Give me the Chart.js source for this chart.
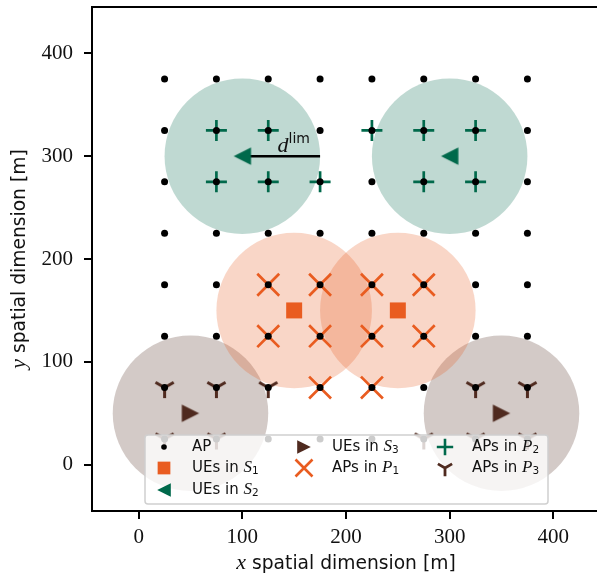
<!DOCTYPE html>
<html>
<head>
<meta charset="utf-8">
<script src="https://cdn.jsdelivr.net/npm/chart.js@4.4.1/dist/chart.umd.min.js"></script>
<style>
  html, body { margin: 0; padding: 0; background: #fff; overflow: hidden; }
  #wrap { width: 605px; height: 585px; }
</style>
</head>
<body>
<div id="wrap"><canvas id="fig" width="605" height="585"></canvas></div>
<script>
// AP grid coordinates [m]
const GRID_X = [25, 75, 125, 175, 225, 275, 325, 375];
const GRID_Y = [25, 75, 125, 175, 225, 275, 325, 375];

// UE positions per cluster
const UE_S1 = [[150, 150], [250, 150]];
const UE_S2 = [[100, 300], [300, 300]];
const UE_S3 = [[50, 50], [350, 50]];

// APs serving each cluster
const AP_P1 = [[125, 175], [175, 175], [225, 175], [275, 175],
               [125, 125], [175, 125], [225, 125], [275, 125],
               [175, 75], [225, 75]];
const AP_P2 = [[75, 325], [125, 325], [225, 325], [275, 325], [325, 325],
               [75, 275], [125, 275], [175, 275], [275, 275], [325, 275]];
const AP_P3 = [[25, 75], [75, 75], [125, 75], [325, 75], [375, 75],
               [25, 25], [75, 25], [275, 25], [325, 25], [375, 25]];

const D_LIM = 75;
const X_TICKS = [0, 100, 200, 300, 400];
const Y_TICKS = [0, 100, 200, 300, 400];
const X_RANGE = [-45, 445];
const Y_RANGE = [-45, 445];

const ORANGE = '#e95c20';
const GREEN = '#00694b';
const BROWN = '#4f2a1f';

const SANS = '"DejaVu Sans"';
const SERIF = '"Liberation Serif"';

function rgba(hex, a) {
  const n = parseInt(hex.slice(1), 16);
  return 'rgba(' + (n >> 16) + ',' + ((n >> 8) & 255) + ',' + (n & 255) + ',' + a + ')';
}
const pts = arr => arr.map(p => ({ x: p[0], y: p[1] }));

const apGrid = [];
GRID_Y.forEach(y => GRID_X.forEach(x => apGrid.push([x, y])));

// custom markers
function triDown(size, color, lw) {
  const c = document.createElement('canvas');
  const s = Math.ceil(size * 2 + lw * 2);
  c.width = s; c.height = s;
  const g = c.getContext('2d');
  g.strokeStyle = color; g.lineWidth = lw;
  g.translate(s / 2, s / 2);
  g.beginPath();
  g.moveTo(0, 0); g.lineTo(0, size);
  g.moveTo(0, 0); g.lineTo(-size * 0.866, -size * 0.5);
  g.moveTo(0, 0); g.lineTo(size * 0.866, -size * 0.5);
  g.stroke();
  return c;
}
function tri(h, color, dir) {
  const c = document.createElement('canvas');
  const s = Math.ceil(h * 2 + 2);
  c.width = s; c.height = s;
  const g = c.getContext('2d');
  g.fillStyle = color;
  g.translate(s / 2, s / 2);
  g.beginPath();
  g.moveTo(-h * dir, 0);
  g.lineTo(h * dir, -h);
  g.lineTo(h * dir, h);
  g.closePath();
  g.fill();
  return c;
}

const M = {
  y3: triDown(10.5, BROWN, 3), y3s: triDown(8.2, BROWN, 2.8),
  left: tri(8.7, GREEN, 1), lefts: tri(6.8, GREEN, 1),
  right: tri(8.7, BROWN, -1), rights: tri(6.8, BROWN, -1)
};

const circleRadius = c => {
  const s = c.chart.scales.x;
  return Math.abs(s.getPixelForValue(D_LIM) - s.getPixelForValue(0));
};

function coverage(data, color) {
  return { data: pts(data), pointRadius: circleRadius, pointStyle: 'circle',
    pointBackgroundColor: rgba(color, 0.25), pointBorderWidth: 0, order: 9 };
}

const datasets = [
  coverage(UE_S1, ORANGE),
  coverage(UE_S2, GREEN),
  coverage(UE_S3, BROWN),
  { data: pts(AP_P1), pointStyle: 'crossRot', pointRadius: 15.5,
    pointBorderColor: ORANGE, pointBorderWidth: 2.7, order: 7 },
  { data: pts(AP_P2), pointStyle: 'cross', pointRadius: 10.5,
    pointBorderColor: GREEN, pointBorderWidth: 2.7, order: 7 },
  { data: pts(AP_P3), pointStyle: M.y3, pointRadius: 9, order: 7 },
  { data: pts(apGrid), pointStyle: 'circle', pointRadius: 3.5,
    pointBackgroundColor: '#000', pointBorderWidth: 0, order: 5 },
  { data: pts([UE_S2[0], [UE_S2[0][0] + D_LIM, UE_S2[0][1]]]), showLine: true,
    borderColor: '#000', borderWidth: 2.5, pointRadius: 0, order: 4 },
  { data: pts(UE_S1), pointStyle: 'rect', pointRadius: 11.3,
    pointBackgroundColor: ORANGE, pointBorderWidth: 0, order: 3 },
  { data: pts(UE_S2), pointStyle: M.left, pointRadius: 9, order: 3 },
  { data: pts(UE_S3), pointStyle: M.right, pointRadius: 9, order: 3 }
];

function rich(ctx, parts, x, y, measureOnly) {
  let cx = x;
  for (const p of parts) {
    ctx.font = p.font;
    if (!measureOnly) ctx.fillText(p.t, cx, y + (p.dy || 0));
    cx += ctx.measureText(p.t).width;
  }
  return cx - x;
}

function setLabel(word, letter, sub) {
  return [
    { t: word + ' ', font: '15px ' + SANS },
    { t: letter, font: 'italic 17px ' + SERIF },
    { t: sub, font: '10.5px ' + SANS, dy: 3 }
  ];
}

const legendItems = [
  { col: 0, row: 0, text: [{ t: 'AP', font: '15px ' + SANS }],
    mark: { pointStyle: 'circle', radius: 2.8 }, fill: '#000' },
  { col: 0, row: 1, text: setLabel('UEs in', 'S', '1'),
    mark: { pointStyle: 'rect', radius: 9 }, fill: ORANGE },
  { col: 0, row: 2, text: setLabel('UEs in', 'S', '2'),
    mark: { pointStyle: M.lefts } },
  { col: 1, row: 0, text: setLabel('UEs in', 'S', '3'),
    mark: { pointStyle: M.rights } },
  { col: 1, row: 1, text: setLabel('APs in', 'P', '1'),
    mark: { pointStyle: 'crossRot', radius: 12, borderWidth: 2.6 }, stroke: ORANGE },
  { col: 2, row: 0, text: setLabel('APs in', 'P', '2'),
    mark: { pointStyle: 'cross', radius: 8.2, borderWidth: 2.6 }, stroke: GREEN },
  { col: 2, row: 1, text: setLabel('APs in', 'P', '3'),
    mark: { pointStyle: M.y3s } }
];

const extras = {
  id: 'extras',
  afterDatasetsDraw(chart) {
    const ctx = chart.ctx, ca = chart.chartArea;
    const sx = chart.scales.x, sy = chart.scales.y;
    ctx.save();
    // d^lim annotation
    ctx.fillStyle = '#111';
    ctx.textBaseline = 'alphabetic';
    ctx.textAlign = 'left';
    rich(ctx, [
      { t: 'd', font: 'italic 22px ' + SERIF },
      { t: 'lim', font: '14px ' + SANS, dy: -9 }
    ], sx.getPixelForValue(134), sy.getPixelForValue(304));

    // frame
    ctx.strokeStyle = '#000';
    ctx.lineWidth = 2;
    ctx.strokeRect(ca.left, ca.top, ca.right - ca.left, ca.bottom - ca.top);

    // legend
    const bx = ca.left + 53, by = ca.bottom - 76, bw = 403, bh = 69;
    ctx.beginPath();
    ctx.roundRect(bx, by, bw, bh, 3);
    ctx.fillStyle = 'rgba(255,255,255,0.8)';
    ctx.fill();
    ctx.strokeStyle = '#d0d0d0';
    ctx.lineWidth = 1.5;
    ctx.stroke();
    const colM = [19, 159, 300], colT = [47, 187, 327], rowY = [12, 33, 55];
    ctx.textBaseline = 'middle';
    for (const it of legendItems) {
      const mx = bx + colM[it.col], my = by + rowY[it.row];
      ctx.fillStyle = it.fill || '#000';
      ctx.strokeStyle = it.stroke || '#000';
      ctx.lineWidth = it.mark.borderWidth || 0;
      Chart.helpers.drawPoint(ctx, Object.assign({ rotation: 0, borderWidth: 0 }, it.mark), mx, my);
      ctx.fillStyle = '#111';
      rich(ctx, it.text, bx + colT[it.col], my);
    }
    ctx.restore();
  },
  afterDraw(chart) {
    const ctx = chart.ctx, ca = chart.chartArea;
    ctx.save();
    ctx.fillStyle = '#111';
    ctx.textBaseline = 'alphabetic';
    const xt = [{ t: 'x', font: 'italic 22px ' + SERIF }, { t: ' spatial dimension [m]', font: '18.7px ' + SANS }];
    const yt = [{ t: 'y', font: 'italic 22px ' + SERIF }, { t: ' spatial dimension [m]', font: '18.7px ' + SANS }];
    const cx = (ca.left + ca.right) / 2;
    const wx = rich(ctx, xt, 0, 0, true);
    rich(ctx, xt, cx - wx / 2, 569);
    const cy = (ca.top + ca.bottom) / 2;
    const wy = rich(ctx, yt, 0, 0, true);
    ctx.translate(25, cy);
    ctx.rotate(-Math.PI / 2);
    rich(ctx, yt, -wy / 2, 0);
    ctx.restore();
  }
};

function axis(range, ticks, fit, pad) {
  return {
    type: 'linear', min: range[0], max: range[1],
    afterBuildTicks: s => { s.ticks = ticks.map(v => ({ value: v })); },
    afterFit: s => {
      fit(s);
      s.paddingTop = s.paddingBottom = s.paddingLeft = s.paddingRight = 0;
    },
    border: { display: false },
    grid: { drawOnChartArea: false, drawTicks: true, tickLength: 8, color: '#000', lineWidth: 2 },
    ticks: { autoSkip: false, maxRotation: 0, padding: pad, color: '#111',
      font: { family: 'Liberation Serif', size: 21 } }
  };
}

new Chart(document.getElementById('fig'), {
  type: 'scatter',
  data: { datasets: datasets },
  options: {
    responsive: false,
    animation: false,
    events: [],
    layout: { autoPadding: false, padding: { top: 7, right: 5, left: 0, bottom: 0 } },
    plugins: { legend: { display: false }, tooltip: { enabled: false } },
    scales: {
      x: axis(X_RANGE, X_TICKS, s => { s.height = 74; }, 6),
      y: axis(Y_RANGE, Y_TICKS, s => { s.width = 92; }, 11)
    }
  },
  plugins: [extras]
});
</script>
</body>
</html>
